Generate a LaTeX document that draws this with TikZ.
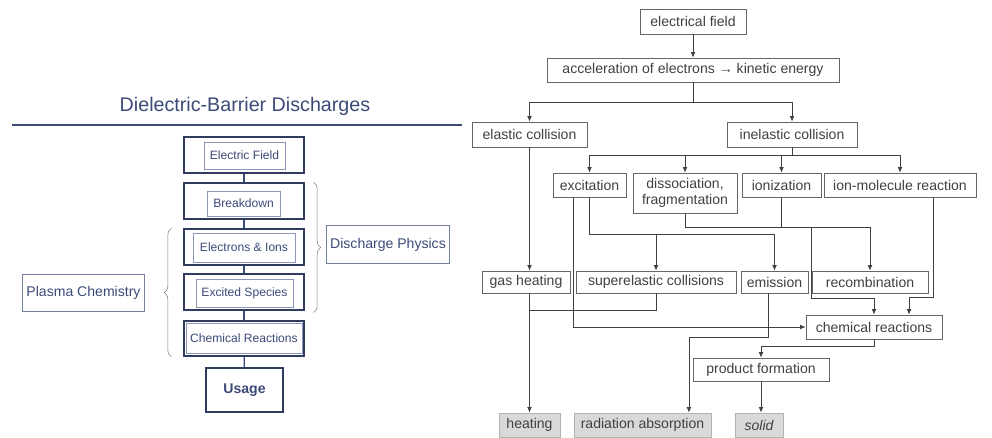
\documentclass[tikz,border=0pt]{standalone}
\usepackage{fontspec}
\setmainfont{Liberation Sans}
\usepackage{xcolor}
\usetikzlibrary{arrows.meta}
\usetikzlibrary{positioning}
\usetikzlibrary{decorations.pathreplacing}
\definecolor{slate}{HTML}{3C4A78}
\definecolor{slatelt}{HTML}{8C96B8}
\definecolor{inkgray}{HTML}{404040}

\begin{document}
\begin{tikzpicture}[
  x=0.025cm, y=-0.025cm,
  box/.style={draw=gray!80!black, line width=0.5pt, text=inkgray, font=\fontsize{10}{11}\selectfont,
    inner sep=0pt, minimum height=0.6cm, align=center},
  result/.style={box, fill=gray!30, draw=gray!60},
  outerbox/.style={draw=slate!80!black, line width=0.9pt, minimum width=3cm, minimum height=0.9cm, inner sep=0pt},
  innerbox/.style={draw=slatelt, line width=0.5pt, text=slate, font=\fontsize{8.6}{10}\selectfont,
    inner sep=0pt, minimum height=0.7cm},
  sidebox/.style={draw=slate!70, line width=0.7pt, text=slate, font=\fontsize{10}{12}\selectfont,
    inner sep=0pt, minimum height=0.93cm},
  arr/.style={-{Latex[length=4pt,width=3.5pt]}},
  link/.style={draw=inkgray, line width=0.6pt}]
\useasboundingbox (0,0) rectangle (992,437);

% left: overview
\node[font=\fontsize{14}{16}\selectfont, text=slate] (title) at (245,106) {Dielectric-Barrier Discharges};
\draw[slate, line width=1.2pt] (12,125) -- (462,125);

\node[outerbox] (efO) at (244,155) {};
\node[innerbox, minimum width=2.025cm, minimum height=0.675cm] (efI) at (244.5,155.5) {Electric Field};
\node[outerbox] (bdO) at (244,201) {};
\node[innerbox, minimum width=1.825cm, minimum height=0.625cm] (bdI) at (243.5,203.5) {Breakdown};
\node[outerbox] (elO) at (244,247) {};
\node[innerbox, minimum width=2.55cm, minimum height=0.725cm] (elI) at (244,247.5) {Electrons \& Ions};
\node[outerbox] (exO) at (244,292) {};
\node[innerbox, minimum width=2.425cm, minimum height=0.7cm] (exI) at (244.5,293) {Excited Species};
\node[outerbox, minimum height=0.875cm] (crO) at (244,338.5) {};
\node[innerbox, minimum width=2.9cm, minimum height=0.75cm] (crI) at (244,338.5) {Chemical Reactions};
\node[outerbox, minimum width=1.925cm, minimum height=1.1cm, font=\bfseries\fontsize{10}{12}\selectfont,
  text=slate] (usage) at (244.5,390) {Usage};
\foreach \a/\b in {efO/bdO, bdO/elO, elO/exO, exO/crO, crO/usage}
  \draw[slate, line width=0.8pt] (\a) -- (\b);

\node[sidebox, minimum width=3.05cm] (physics) at (388,244.5) {Discharge Physics};
\node[sidebox, minimum width=3.025cm] (chemistry) at (83.5,293) {Plasma Chemistry};
\draw[gray, decorate, decoration={brace, amplitude=5pt}]
  ([xshift=0.225cm]bdO.north east) -- ([xshift=0.225cm,yshift=-0.05cm]exO.south east);
\draw[gray, decorate, decoration={brace, amplitude=5pt}]
  ([xshift=-0.3cm]crO.south west) -- ([xshift=-0.3cm]elO.north west);

% right: processes
\node[box, minimum width=2.65cm, minimum height=0.625cm] (efield) at (693,21.5) {electrical field};
\node[box, minimum width=7.3cm] (accel) at (693,70) {acceleration of electrons → kinetic energy};
\node[box, minimum width=2.875cm, minimum height=0.625cm] (elastic) at (529.5,134.5) {elastic collision};
\node[box, minimum width=3.25cm, minimum height=0.625cm] (inelastic) at (792,134.5) {inelastic collision};
\node[box, minimum width=1.825cm] (excit) at (589.5,185) {excitation};
\node[box, minimum width=2.6cm, minimum height=1cm] (dissoc) at (685,193) {dissociation,\\fragmentation};
\node[box, minimum width=1.975cm] (ioniz) at (781.5,185) {ionization};
\node[box, minimum width=3.8cm] (ionmol) at (900,185) {ion-molecule reaction};
\node[box, minimum width=2.2cm, minimum height=0.55cm] (gasheat) at (526,282) {gas heating};
\node[box, minimum width=4cm, minimum height=0.55cm] (superel) at (656,282) {superelastic collisions};
\node[box, minimum width=1.675cm, minimum height=0.55cm] (emis) at (774.5,282) {emission};
\node[box, minimum width=2.9cm, minimum height=0.55cm] (recomb) at (870,282) {recombination};
\node[box, minimum width=3.4cm] (chemreac) at (874,327) {chemical reactions};
\node[box, minimum width=3.4cm, minimum height=0.575cm] (prodform) at (761,369.5) {product formation};
\node[result, minimum width=1.525cm] (heating) at (529.5,425) {heating};
\node[result, minimum width=3.425cm] (radabs) at (642.5,425) {radiation absorption};
\node[result, minimum width=1.2cm] (solid) at (759,425) {\itshape solid};

\draw[link,arr] (efield) -- (accel);
\draw[link,arr] (accel.south) -- ++(0,20) -| (elastic.north);
\draw[link,arr] (accel.south) -- ++(0,20) -| (inelastic.north);
\draw[link] (inelastic.south) -- ++(0,8) coordinate (split);
\foreach \n in {excit,dissoc,ioniz,ionmol}
  \draw[link,arr] (split) -| (\n.north);
\draw[link,arr] (elastic.south) -- (elastic.south |- gasheat.north);
\draw[link,arr] (excit.south) -- ++(0,37) coordinate (exc1) -| (emis.north);
\draw[link,arr] (exc1 -| superel.north) -- (superel.north);
\draw[link,arr] ([xshift=-0.39cm]excit.south) |- (chemreac.west);
\draw[link,arr] (dissoc.south) -- ++(0,14) coordinate (dis1) -| (recomb.north);
\draw[link] (ioniz.south) -- (ioniz.south |- dis1);
\draw[link,arr] (dis1 -| recomb.west) -- ++(0,71) -| (chemreac.north);
\draw[link,arr] ([xshift=0.825cm]ionmol.south) -- ++(0,100) -| ([xshift=0.875cm]chemreac.north);
\draw[link,arr] (gasheat.south -| heating.north) -- (heating.north);
\draw[link] (superel.south) -- ++(0,17) coordinate (sup1) -- (sup1 -| heating.north);
\draw[link,arr] ([xshift=-0.16cm]emis.south) -- ++(0,44) -| ([xshift=1.16cm]radabs.north);
\draw[link,arr] (chemreac.south) -- ++(0,7) -| (prodform.north);
\draw[link,arr] (prodform.south) -- (prodform.south |- solid.north);
\end{tikzpicture}
\end{document}
